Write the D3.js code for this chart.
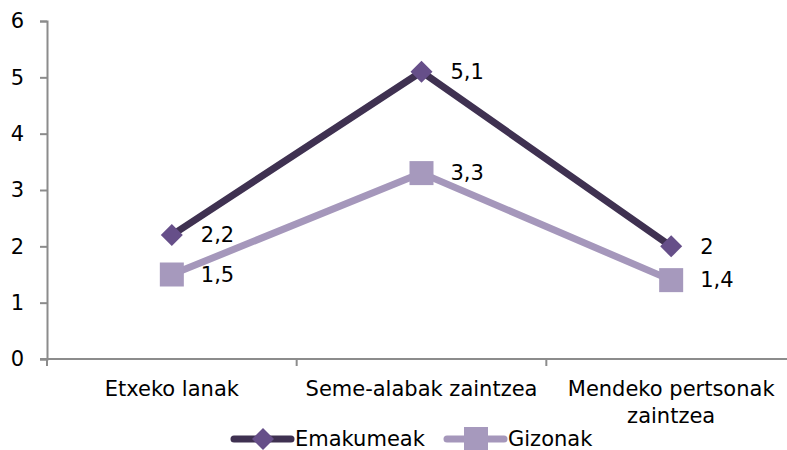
<!DOCTYPE html>
<html>
<head>
<meta charset="utf-8">
<script src="https://cdn.jsdelivr.net/npm/d3@7"></script>
<style>
  html, body { margin: 0; padding: 0; background: #fff; }
  text { font-family: "DejaVu Sans", "Noto Sans", sans-serif; fill: #000; }
</style>
</head>
<body>
<svg id="chart" width="787" height="450"></svg>
<script>
// Categories and series values
const categories = ["Etxeko lanak", "Seme-alabak zaintzea", "Mendeko pertsonak zaintzea"];
const categoryLines = [["Etxeko lanak"], ["Seme-alabak zaintzea"], ["Mendeko pertsonak", "zaintzea"]];
const emakumeak = [2.2, 5.1, 2.0];
const gizonak = [1.5, 3.3, 1.4];
const yTicks = [0, 1, 2, 3, 4, 5, 6];
const seriesNames = ["Emakumeak", "Gizonak"];

const fmt = v => String(v).replace(".", ",");

const svg = d3.select("#chart");
const margin = { left: 47, right: -9, top: 21, bottom: 91 };
const W = 787, H = 450;
const fontSize = 21;

const x = d3.scaleBand().domain(categories).range([margin.left, W - margin.right]).paddingInner(0).paddingOuter(0);
const y = d3.scaleLinear().domain([0, 6]).range([H - margin.bottom, margin.top]);

const axisColor = "#8c8c8c";

// Y axis
const yAxis = svg.append("g").attr("transform", `translate(${margin.left},0)`)
  .call(d3.axisLeft(y).tickValues(yTicks).tickSize(7).tickPadding(16).tickFormat(d => d));
yAxis.select(".domain").attr("stroke", axisColor).attr("stroke-width", 2);
yAxis.selectAll(".tick line").attr("stroke", axisColor).attr("stroke-width", 2);
yAxis.selectAll(".tick text").attr("font-size", fontSize).attr("font-family", null);

// X axis: line with tick marks between categories
const xg = svg.append("g");
xg.append("line")
  .attr("x1", margin.left - 7).attr("x2", W)
  .attr("y1", y(0)).attr("y2", y(0))
  .attr("stroke", axisColor).attr("stroke-width", 2);
const bounds = categories.map(c => x(c)).concat([x(categories[categories.length - 1]) + x.bandwidth()]);
xg.selectAll("line.tk").data(bounds).join("line").attr("class", "tk")
  .attr("x1", d => d).attr("x2", d => d)
  .attr("y1", y(0)).attr("y2", y(0) + 7)
  .attr("stroke", axisColor).attr("stroke-width", 2);
xg.selectAll("text.cat").data(categories).join("text").attr("class", "cat")
  .attr("x", d => x(d) + x.bandwidth() / 2)
  .attr("y", y(0) + 37)
  .attr("text-anchor", "middle")
  .attr("font-size", fontSize)
  .each(function (d, i) {
    const t = d3.select(this);
    categoryLines[i].forEach((ln, j) => {
      t.append("tspan").attr("x", x(d) + x.bandwidth() / 2).attr("dy", j === 0 ? 0 : 27).text(ln);
    });
  });

const cx = c => x(c) + x.bandwidth() / 2;

const series = [
  { name: seriesNames[0], values: emakumeak, line: "#3f3151", marker: "#664f89", shape: "diamond" },
  { name: seriesNames[1], values: gizonak, line: "#a597bb", marker: "#a699bd", shape: "square" }
];

const lineGen = d3.line().x((d, i) => cx(categories[i])).y(d => y(d));

function drawMarker(g, shape, px, py, color) {
  if (shape === "diamond") {
    const r = 11;
    g.append("path")
      .attr("d", `M${px},${py - r}L${px + r},${py}L${px},${py + r}L${px - r},${py}Z`)
      .attr("fill", color);
  } else {
    const s = 24;
    g.append("rect").attr("x", px - s / 2).attr("y", py - s / 2)
      .attr("width", s).attr("height", s).attr("fill", color);
  }
}

// Series lines, markers and value labels (second series drawn first so the first sits on top)
[...series].reverse().forEach(s => {
  const g = svg.append("g");
  g.append("path").datum(s.values).attr("d", lineGen)
    .attr("fill", "none").attr("stroke", s.line).attr("stroke-width", 7)
    .attr("stroke-linejoin", "round");
  s.values.forEach((v, i) => drawMarker(g, s.shape, cx(categories[i]), y(v), s.marker));
  g.selectAll("text").data(s.values).join("text")
    .attr("x", (d, i) => cx(categories[i]) + 29)
    .attr("y", d => y(d))
    .attr("dy", "0.35em")
    .attr("font-size", fontSize)
    .text(fmt);
});

// Legend
const legend = svg.append("g");
const legendItems = [
  { s: series[0], x0: 234 },
  { s: series[1], x0: 447 }
];
legendItems.forEach(({ s, x0 }) => {
  const ly = 439;
  legend.append("line").attr("x1", x0).attr("x2", x0 + 57).attr("y1", ly).attr("y2", ly)
    .attr("stroke", s.line).attr("stroke-width", 7).attr("stroke-linecap", "round");
  drawMarker(legend, s.shape, x0 + 29, ly, s.marker);
  legend.append("text").attr("x", x0 + 61).attr("y", ly).attr("dy", "0.35em")
    .attr("font-size", fontSize).text(s.name);
});
</script>
</body>
</html>
